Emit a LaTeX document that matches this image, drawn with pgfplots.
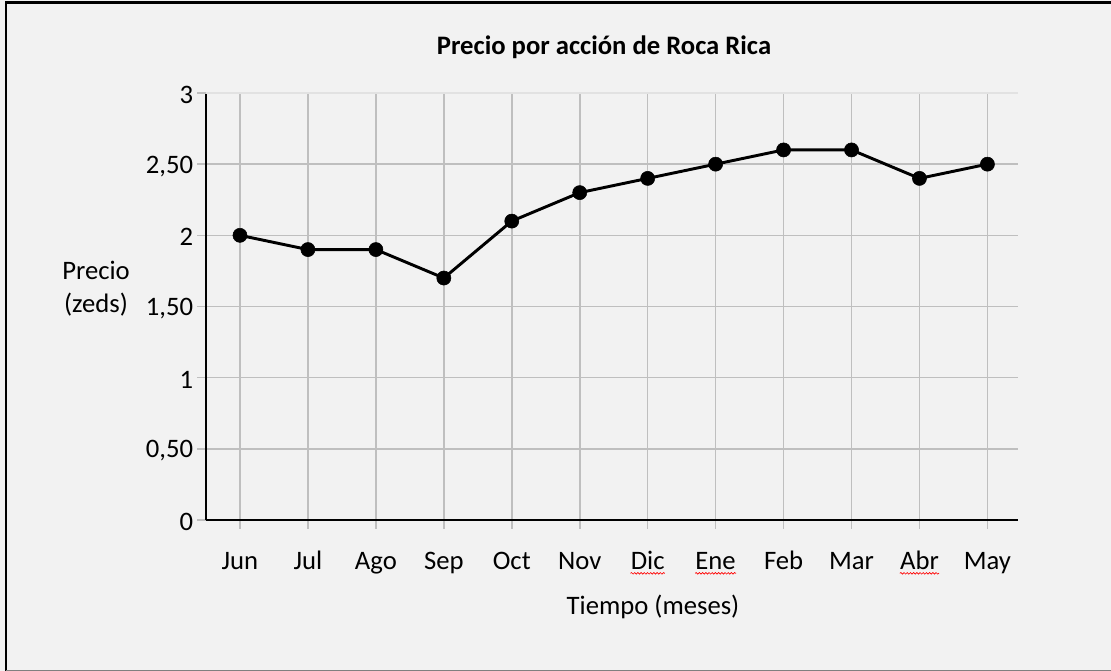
\documentclass[border=0pt]{standalone}
\usepackage{fontspec}
\setmainfont{Carlito}
\usepackage{pgfplots}
\pgfplotsset{compat=1.18}
\usetikzlibrary{decorations.pathmorphing}
\definecolor{bg}{RGB}{242,242,242}
\definecolor{gridc}{RGB}{191,191,191}
\definecolor{gridl}{RGB}{226,226,226}
\newcommand\squig[1]{\tikz[baseline=(w.base)]{\node[inner sep=0pt,anchor=base](w){#1};\draw[red,line width=0.5pt,decorate,decoration={snake,amplitude=0.6pt,segment length=2.4pt}]([yshift=-3pt]w.base west)--([yshift=-3pt]w.base east);}}
\begin{document}
\begin{tikzpicture}
\fill[bg] (0,0) rectangle (833.25pt,503.25pt);
\draw[black,line width=2.2pt] (4.5pt,0) -- (4.5pt,501.5pt) -- (833.25pt,501.5pt);
\draw[gray,line width=0.8pt] (4.5pt,0.6pt) -- (833.25pt,0.6pt);
\begin{axis}[
  at={(154.5pt,113.25pt)}, anchor=south west,
  scale only axis, width=609pt, height=320.25pt,
  xmin=-0.5, xmax=11.45, ymin=0, ymax=3,
  axis lines=left, axis line style={-, black, line width=2.2pt},
  xtick={0,...,11},
  xticklabels={Jun,Jul,Ago,Sep,Oct,Nov,\squig{Dic},\squig{Ene},Feb,Mar,\squig{Abr},May},
  ytick={0,0.5,1,1.5,2,2.5},
  yticklabels={0,{0,50},1,{1,50},2,{2,50}},
  extra y ticks={3}, extra y tick labels={3},
  extra y tick style={grid style={gridl, line width=1.2pt}},
  grid=major, grid style={gridc, line width=1.2pt},
  tick align=outside, major tick length=6.5pt,
  tick style={gridc, line width=1.2pt},
  tick label style={font=\fontsize{20}{24}\selectfont, black},
  xticklabel style={anchor=base, yshift=-30.5pt},
  yticklabel style={anchor=east, inner sep=0pt, xshift=-3pt, yshift=-1.5pt},
  clip=false,
]
\addplot[black, line width=2.2pt, mark=*, mark size=5.3pt,
  mark options={solid, fill=black, draw=black, line width=0.4pt}]
  coordinates {(0,2.0) (1,1.9) (2,1.9) (3,1.7) (4,2.1) (5,2.3) (6,2.4) (7,2.5) (8,2.6) (9,2.6) (10,2.4) (11,2.5)};
\end{axis}
\node[font=\fontsize{20}{24}\selectfont\bfseries] at (453pt,468pt) {Precio por acción de Roca Rica};
\node[font=\fontsize{20}{24.75}\selectfont, align=center] at (72pt,286.5pt) {Precio\\(zeds)};
\node[font=\fontsize{20}{24}\selectfont] at (489.75pt,48pt) {Tiempo (meses)};
\pgfresetboundingbox
\useasboundingbox (0,0) rectangle (833.25pt,503.25pt);
\end{tikzpicture}
\end{document}
